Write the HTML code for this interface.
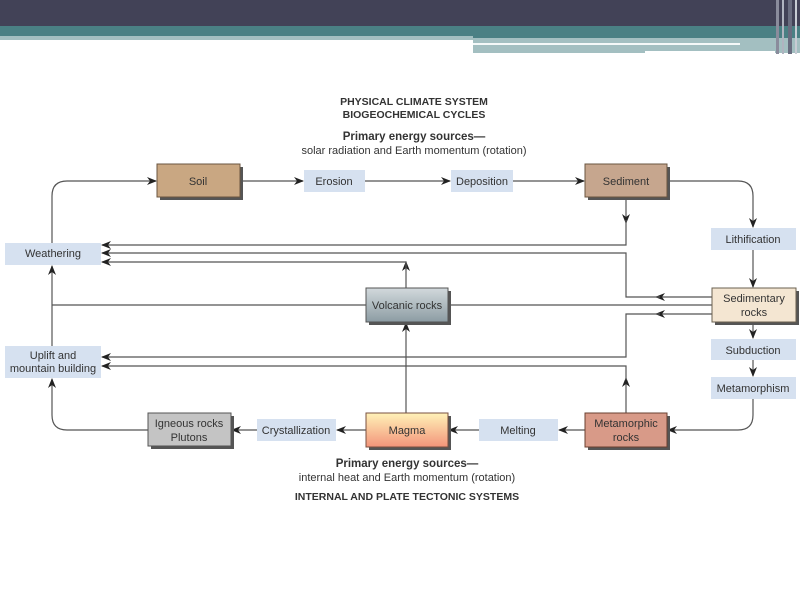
<!DOCTYPE html>
<html><head><meta charset="utf-8"><style>
html,body{margin:0;padding:0;background:#fff;}
svg{display:block;}
text{font-family:"Liberation Sans",Arial,sans-serif;fill:#333;}
</style></head><body>
<svg width="800" height="600" viewBox="0 0 800 600" xmlns="http://www.w3.org/2000/svg">
<defs>
<linearGradient id="volc" x1="0" y1="0" x2="0" y2="1"><stop offset="0" stop-color="#d2d9dc"/><stop offset="1" stop-color="#8c9ca3"/></linearGradient>
<linearGradient id="magma" x1="0" y1="0" x2="0" y2="1"><stop offset="0" stop-color="#fff2b8"/><stop offset="1" stop-color="#f3947a"/></linearGradient>
<marker id="ar" viewBox="0 0 10 8" refX="9" refY="4" markerWidth="10" markerHeight="8" markerUnits="userSpaceOnUse" orient="auto"><path d="M0,0 L10,4 L0,8 L3,4 z" fill="#222"/></marker>
</defs>
<!-- header -->
<rect x="0" y="0" width="800" height="26" fill="#424257"/>
<rect x="0" y="26" width="800" height="12" fill="#4a8084"/>
<rect x="0" y="36" width="473" height="4" fill="#a3bfc1"/>
<rect x="473" y="38" width="327" height="15" fill="#a3bfc1"/>
<rect x="473" y="43" width="267" height="2" fill="#f4f8f8"/>
<rect x="645" y="51" width="130" height="3" fill="#ffffff"/>
<rect x="776" y="0" width="3" height="54" fill="#8a8c9c"/>
<rect x="782" y="0" width="2" height="54" fill="#b0b4c0"/>
<rect x="788" y="0" width="4" height="54" fill="#6a6d80"/>
<rect x="795" y="0" width="2" height="54" fill="#c8ccd4"/>

<g stroke="#555" stroke-width="1.2" fill="none">
<!-- top row -->
<path d="M52,265 V196 Q52,181 67,181 H156" marker-end="url(#ar)"/>
<path d="M240,181 H303" marker-end="url(#ar)"/>
<path d="M365,181 H450" marker-end="url(#ar)"/>
<path d="M513,181 H584" marker-end="url(#ar)"/>
<path d="M667,181 H738 Q753,181 753,196 V227" marker-end="url(#ar)"/>
<path d="M626,197 V223" marker-end="url(#ar)"/>
<path d="M626,220 V245 H102" marker-end="url(#ar)"/>
<path d="M753,250 V287" marker-end="url(#ar)"/>
<!-- sedimentary outputs -->
<path d="M712,297 H656" marker-end="url(#ar)"/>
<path d="M660,297 H626 V253 H102" marker-end="url(#ar)"/>
<path d="M712,305 H448"/>
<path d="M712,314 H656" marker-end="url(#ar)"/>
<path d="M660,314 H626 V357 H102" marker-end="url(#ar)"/>
<path d="M366,305 H52"/>
<path d="M406,288 V262" marker-end="url(#ar)"/>
<path d="M406,270 V262 H102" marker-end="url(#ar)"/>
<path d="M52,346 V266" marker-end="url(#ar)"/>
<path d="M753,322 V338" marker-end="url(#ar)"/>
<path d="M753,360 V376" marker-end="url(#ar)"/>
<path d="M753,399 V415 Q753,430 738,430 H668" marker-end="url(#ar)"/>
<!-- bottom -->
<path d="M585,430 H559" marker-end="url(#ar)"/>
<path d="M479,430 H449" marker-end="url(#ar)"/>
<path d="M366,430 H337" marker-end="url(#ar)"/>
<path d="M257,430 H232" marker-end="url(#ar)"/>
<path d="M148,430 H67 Q52,430 52,415 V379" marker-end="url(#ar)"/>
<path d="M406,413 V323" marker-end="url(#ar)"/>
<path d="M626,413 V378" marker-end="url(#ar)"/>
<path d="M626,380 V366 H102" marker-end="url(#ar)"/>
</g>

<!-- boxes with shadows -->
<g>
<rect x="160" y="167" width="83" height="33" fill="#555"/>
<rect x="157" y="164" width="83" height="33" fill="#c9a782" stroke="#6a5540" stroke-width="1"/>
<rect x="588" y="167" width="82" height="33" fill="#555"/>
<rect x="585" y="164" width="82" height="33" fill="#c6a68e" stroke="#6a5540" stroke-width="1"/>
<rect x="369" y="291" width="82" height="34" fill="#555"/>
<rect x="366" y="288" width="82" height="34" fill="url(#volc)" stroke="#555" stroke-width="1"/>
<rect x="715" y="291" width="84" height="34" fill="#555"/>
<rect x="712" y="288" width="84" height="34" fill="#f4e6d2" stroke="#6a6050" stroke-width="1"/>
<rect x="151" y="416" width="83" height="33" fill="#555"/>
<rect x="148" y="413" width="83" height="33" fill="#c4c4c4" stroke="#555" stroke-width="1"/>
<rect x="369" y="416" width="82" height="34" fill="#555"/>
<rect x="366" y="413" width="82" height="34" fill="url(#magma)" stroke="#7a5040" stroke-width="1"/>
<rect x="588" y="416" width="82" height="34" fill="#555"/>
<rect x="585" y="413" width="82" height="34" fill="#d89a88" stroke="#6a4030" stroke-width="1"/>
</g>
<g fill="#d6e1f0">
<rect x="304" y="170" width="61" height="22"/>
<rect x="451" y="170" width="62" height="22"/>
<rect x="5" y="243" width="96" height="22"/>
<rect x="5" y="346" width="96" height="32"/>
<rect x="711" y="228" width="85" height="22"/>
<rect x="711" y="339" width="85" height="21"/>
<rect x="711" y="377" width="85" height="22"/>
<rect x="257" y="419" width="79" height="22"/>
<rect x="479" y="419" width="79" height="22"/>
</g>
<g font-size="11" text-anchor="middle">
<text x="198" y="185">Soil</text>
<text x="334" y="185">Erosion</text>
<text x="482" y="185">Deposition</text>
<text x="626" y="185">Sediment</text>
<text x="53" y="257">Weathering</text>
<text x="753" y="243">Lithification</text>
<text x="407" y="309">Volcanic rocks</text>
<text x="754" y="302">Sedimentary</text>
<text x="754" y="316">rocks</text>
<text x="53" y="359">Uplift and</text>
<text x="53" y="372">mountain building</text>
<text x="753" y="354">Subduction</text>
<text x="753" y="392">Metamorphism</text>
<text x="189" y="427">Igneous rocks</text>
<text x="189" y="441">Plutons</text>
<text x="296" y="434">Crystallization</text>
<text x="407" y="434">Magma</text>
<text x="518" y="434">Melting</text>
<text x="626" y="427">Metamorphic</text>
<text x="626" y="441">rocks</text>
</g>
<g text-anchor="middle">
<text x="414" y="105" font-size="10.5" font-weight="bold">PHYSICAL CLIMATE SYSTEM</text>
<text x="414" y="118" font-size="10.5" font-weight="bold">BIOGEOCHEMICAL CYCLES</text>
<text x="414" y="140" font-size="11.5" font-weight="bold">Primary energy sources—</text>
<text x="414" y="154" font-size="11">solar radiation and Earth momentum (rotation)</text>
<text x="407" y="467" font-size="11.5" font-weight="bold">Primary energy sources—</text>
<text x="407" y="481" font-size="11">internal heat and Earth momentum (rotation)</text>
<text x="407" y="500" font-size="10.5" font-weight="bold">INTERNAL AND PLATE TECTONIC SYSTEMS</text>
</g>
</svg>
</body></html>
